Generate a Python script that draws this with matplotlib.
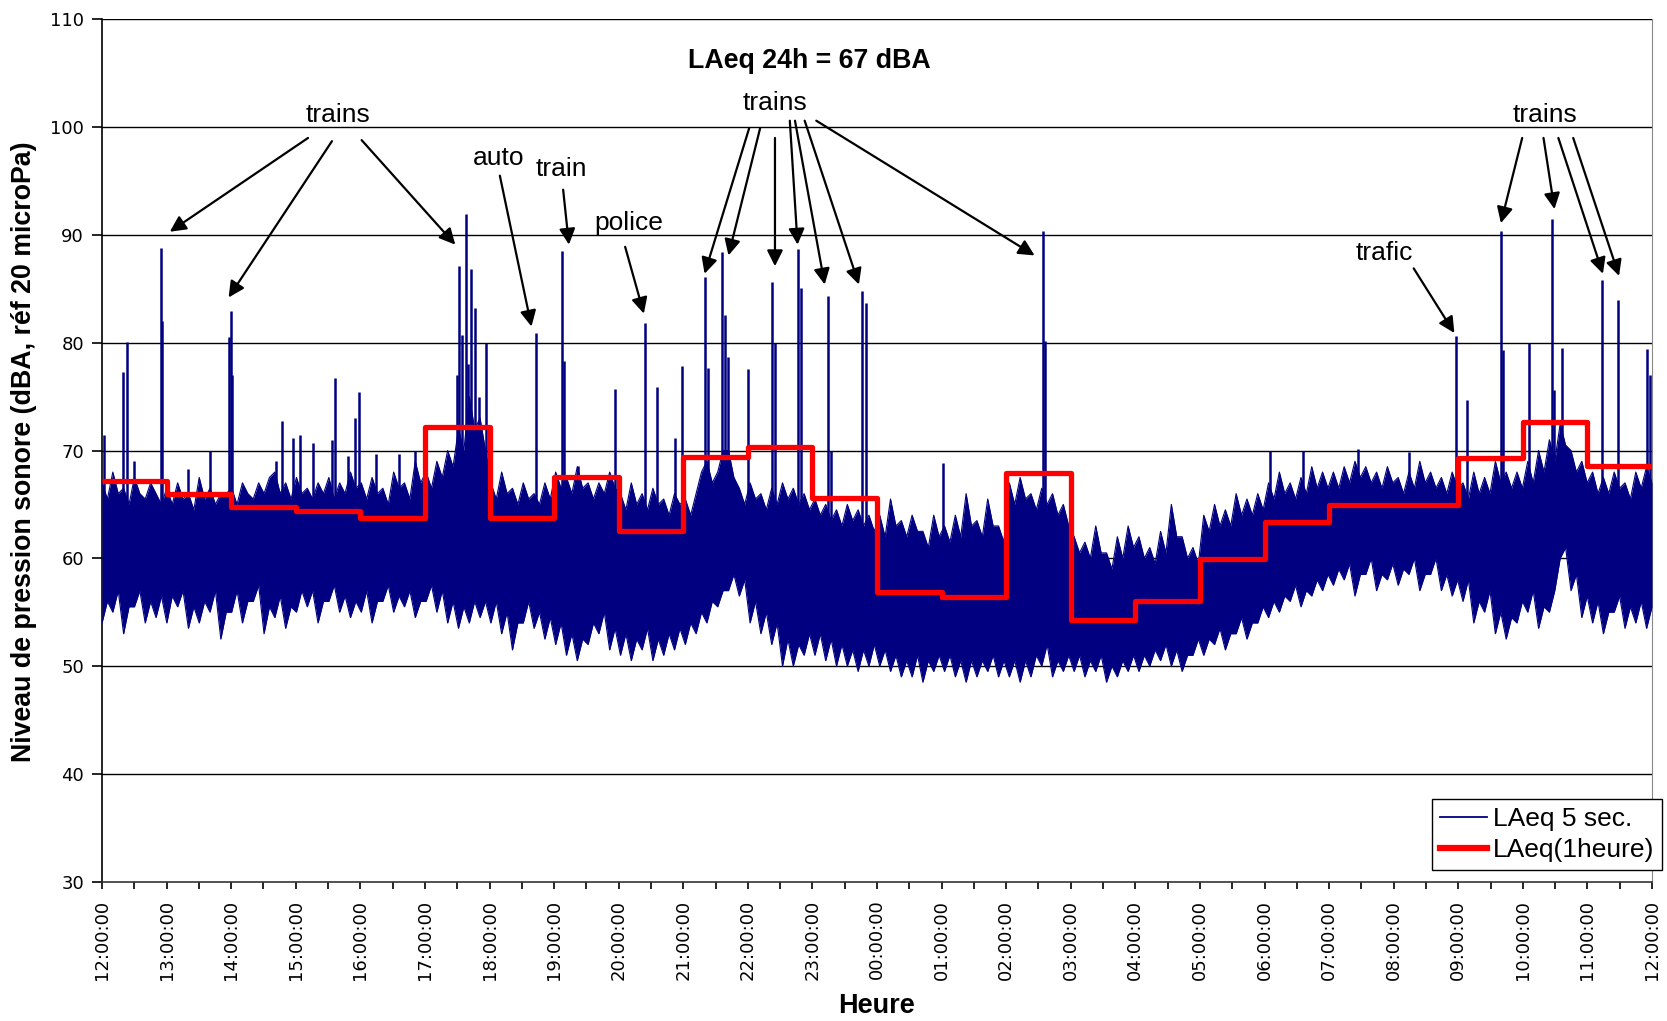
import matplotlib
matplotlib.use("Agg")
import matplotlib.pyplot as plt
from matplotlib.lines import Line2D
import numpy as np

# ---------------- data ----------------
hour_labels = ["12:00:00", "13:00:00", "14:00:00", "15:00:00", "16:00:00", "17:00:00",
               "18:00:00", "19:00:00", "20:00:00", "21:00:00", "22:00:00", "23:00:00",
               "00:00:00", "01:00:00", "02:00:00", "03:00:00", "04:00:00", "05:00:00",
               "06:00:00", "07:00:00", "08:00:00", "09:00:00", "10:00:00", "11:00:00",
               "12:00:00"]

# LAeq (1 heure), one value per hour starting 12:00
laeq_hourly = [67.2, 66.0, 64.8, 64.4, 63.7, 72.2, 63.7, 67.5, 62.5, 69.4, 70.3, 65.6,
               56.9, 56.4, 67.9, 54.3, 56.0, 59.9, 63.4, 64.9, 64.9, 69.3, 72.6, 68.6]

# LAeq 5 sec. : upper / lower edge of the dense band, every 5 minutes (one row per hour)
band_hi = [67, 65.5, 68, 66, 66.5, 65, 67.5, 66, 65.5, 67, 66, 65,
           66.5, 65, 67, 65.5, 66, 64.5, 67.5, 65.5, 66.5, 65, 66, 66,
           66.5, 65, 67, 66, 65.5, 67, 66, 67.5, 68, 66, 67, 65.5,
           67.5, 66, 66.5, 65.5, 67, 66, 67.5, 65.5, 67, 66, 68, 66.5,
           67, 65.5, 67.5, 66, 66.5, 65, 68, 66.5, 67, 65.5, 69, 67,
           68, 66.5, 69, 67.5, 70, 68.5, 72, 70, 75, 72, 73, 70,
           67, 65.5, 68, 66, 66.5, 65, 67, 65.5, 66, 65, 67, 65.5,
           68, 66.5, 67.5, 66, 68.5, 66.5, 67, 65.5, 67, 66, 68, 66.5,
           66, 64.5, 67, 65, 66, 64.5, 66.5, 65, 65.5, 64, 66, 65,
           65.5, 64, 66, 68, 69, 67, 68, 70, 70, 67.5, 66.5, 65,
           67, 65.5, 66, 64.5, 66.5, 65, 67, 65.5, 66.5, 65, 66, 64.5,
           65.5, 64, 65, 63.5, 64.5, 63, 65, 63.5, 64.5, 63, 64, 62.5,
           64, 62, 65.5, 63, 63.5, 62, 64, 62.5, 62.5, 61, 64, 62,
           63, 61.5, 64, 62, 66, 63, 63.5, 62, 65.5, 63, 63, 61.5,
           67, 65, 67.5, 65.5, 66, 64.5, 66.5, 65, 66, 64, 65, 63,
           62, 60.5, 61.5, 60, 63, 60.5, 60.5, 59, 62, 60, 63, 61,
           62, 60, 61, 59.5, 62.5, 60.5, 65, 62, 62, 60, 61, 59.5,
           64, 62.5, 65, 63, 64.5, 63, 66, 64, 65.5, 64, 66, 64.5,
           67, 65.5, 68, 66, 67, 65.5, 67.5, 66, 68.5, 66.5, 68, 66.5,
           68, 66.5, 68.5, 67, 69, 67.5, 68.5, 67, 68, 66.5, 68.5, 67,
           67.5, 66, 68, 66.5, 69, 67, 68, 66.5, 67.5, 66, 68, 66.5,
           67, 65.5, 68, 66, 67.5, 66, 69, 67, 68, 66.5, 68, 66.5,
           69, 67, 70, 68, 71, 69, 72.5, 70.5, 70, 68, 69, 67,
           68, 66, 67.5, 66, 68, 66.5, 67, 65.5, 68, 66.5, 68.5, 67]
band_lo = [54, 56, 55, 57, 53, 55.5, 55.5, 57, 54, 56, 54.5, 56.5,
           54, 56.5, 55.5, 57, 53.5, 55.5, 54, 56, 55, 57, 52.5, 55,
           55, 57, 54, 56, 56, 57.5, 53, 55.5, 54.5, 56.5, 53.5, 55.5,
           55, 57, 55.5, 57, 54, 56, 56, 57.5, 55, 56.5, 54.5, 56,
           55, 57, 54, 56, 56, 57.5, 55, 56.5, 55.5, 57, 54.5, 56,
           56, 57.5, 55, 57, 54, 56, 53.5, 55.5, 54, 56, 54.5, 56,
           54, 56, 53, 55, 51.5, 54, 54, 56, 53.5, 55, 52.5, 54.5,
           52, 54, 51, 53, 50.5, 52.5, 52, 54, 53, 55, 51.5, 53.5,
           51, 53, 50.5, 52.5, 51.5, 53.5, 50.5, 52.5, 51, 53, 51.5, 53.5,
           52, 54, 53, 55, 54, 56, 55.5, 57, 57, 58.5, 56.5, 58,
           54, 56, 53, 55, 52, 54, 50, 52.5, 50, 52, 51, 53,
           51, 53, 50.5, 52.5, 50, 52, 50, 51.5, 49.5, 51.5, 50, 52,
           50, 51.5, 49.5, 51, 49, 50.5, 49, 51, 48.5, 50.5, 49.5, 51,
           49.5, 51, 49, 50.5, 48.5, 50.5, 49, 50.5, 49.5, 51, 49, 50.5,
           49, 50.5, 48.5, 50.5, 49, 51, 50, 52, 49, 50.5, 49.5, 51,
           49.5, 51, 49, 50.5, 49.5, 51, 48.5, 50, 49, 50.5, 49.5, 51,
           49.5, 51, 50, 51.5, 50.5, 52, 50, 51.5, 49.5, 51, 51, 52.5,
           51, 52.5, 52, 53.5, 51.5, 53, 53, 54.5, 52.5, 54, 54, 55.5,
           54.5, 56, 55, 56.5, 56, 57.5, 55.5, 57, 56.5, 58, 57, 58.5,
           57.5, 59, 58, 59.5, 56.5, 58.5, 58.5, 60, 57, 58.5, 58, 59.5,
           57.5, 59, 58.5, 60, 57, 58.5, 58.5, 60, 57, 58.5, 56.5, 58,
           56, 58, 54, 56, 55, 57, 53, 55, 52.5, 54.5, 54, 56,
           55, 57, 53.5, 55.5, 55, 57, 60, 61, 57, 58.5, 54.5, 56.5,
           54, 56, 53, 55, 55, 56.5, 53.5, 55.5, 54, 56, 53.5, 55.5]

# isolated peaks of the 5 s series (hours after 12:00, dBA)
peak_time = [0.03, 0.32, 0.38, 0.49, 0.91, 0.93, 1.33, 1.67, 1.97, 1.99, 2.01, 2.70,
             2.79, 2.95, 3.07, 3.27, 3.56, 3.60, 3.81, 3.92, 3.98, 4.24, 4.60, 4.85,
             5.50, 5.53, 5.57, 5.63, 5.66, 5.71, 5.77, 5.84, 5.94, 6.72, 7.12, 7.16,
             7.37, 7.94, 8.41, 8.60, 8.87, 8.98, 9.34, 9.38, 9.60, 9.65, 9.70, 10.01,
             10.38, 10.42, 10.78, 10.83, 11.24, 11.28, 11.77, 11.83, 13.02, 14.57, 14.60,
             18.08, 18.60, 19.45, 20.23, 20.97, 21.14, 21.66, 21.70, 22.09, 22.45, 22.48,
             22.60, 23.22, 23.48, 23.93, 23.97]
peak_db = [71.4, 77.3, 80.1, 69.0, 88.8, 82.0, 68.3, 70.0, 80.5, 82.9, 77.0, 69.0,
           72.7, 71.2, 71.4, 70.7, 71.0, 76.7, 69.5, 73.0, 75.4, 69.7, 69.7, 70.0,
           77.0, 87.1, 80.7, 91.9, 78.0, 86.8, 83.2, 75.0, 80.0, 80.9, 88.5, 78.3,
           68.6, 75.7, 81.8, 75.9, 71.2, 77.8, 86.1, 77.7, 88.4, 82.6, 78.7, 77.6,
           85.6, 80.0, 88.7, 85.1, 84.3, 70.0, 84.8, 83.7, 68.8, 90.4, 80.2,
           70.0, 70.0, 70.1, 69.9, 80.6, 74.7, 90.4, 79.3, 80.0, 91.5, 75.6,
           79.5, 85.8, 84.0, 79.4, 77.0]

# annotations: label, label position (h, dB), arrow starts, arrow tips
ann_labels = ["trains", "auto", "train", "police", "trains", "trafic", "trains"]
ann_pos = [(3.65, 101.1), (6.14, 97.1), (7.11, 96.1), (8.16, 91.1), (10.42, 102.2),
           (19.85, 88.3), (22.35, 101.1)]
arrow_start = [(3.19, 99.0), (3.56, 98.7), (4.02, 98.8),
               (6.16, 95.5), (7.14, 94.2), (8.10, 88.9),
               (10.02, 99.9), (10.19, 99.9), (10.42, 99.0), (10.65, 100.6),
               (10.73, 100.6), (10.88, 100.6), (11.06, 100.6),
               (20.31, 86.9),
               (21.99, 99.0), (22.32, 99.0), (22.55, 99.0), (22.78, 99.0)]
arrow_tip = [(1.05, 90.3), (1.96, 84.2), (5.47, 89.1),
             (6.65, 81.5), (7.23, 89.1), (8.39, 82.7),
             (9.33, 86.4), (9.70, 88.1), (10.42, 87.1), (10.77, 89.1),
             (11.19, 85.4), (11.72, 85.4), (14.44, 88.1),
             (20.94, 80.9),
             (21.66, 91.1), (22.49, 92.4), (23.24, 86.4), (23.49, 86.2)]

title_text = "LAeq 24h = 67 dBA"

# ---------------- figure ----------------
NAVY = "#000080"
fig = plt.figure(figsize=(16.67, 10.21), dpi=100)
ax = fig.add_axes([0.0612, 0.1365, 0.9298, 0.8445])

t_band = np.linspace(0, 24, len(band_hi))
ax.fill_between(t_band, band_lo, band_hi, color=NAVY, lw=0, zorder=3)
ax.plot(t_band, band_hi, color=NAVY, lw=0.8, zorder=3)
ax.plot(t_band, band_lo, color=NAVY, lw=0.8, zorder=3)
base = np.interp(peak_time, t_band, band_lo) + 2
ax.vlines(peak_time, base, peak_db, color=NAVY, lw=1.8, zorder=3)

x_hour = np.arange(len(laeq_hourly) + 1)
ax.plot(x_hour, laeq_hourly + [laeq_hourly[-1]], drawstyle="steps-post",
        color="#ff0000", lw=3.8, zorder=4, solid_capstyle="butt")

ax.set_xlim(0, 24)
ax.set_ylim(30, 110)
ax.set_yticks(np.arange(30, 111, 10))
ax.set_xticks(np.arange(0, 25, 1))
ax.set_xticks(np.arange(0.5, 24, 1), minor=True)
ax.set_xticklabels(hour_labels, rotation=90, fontsize=13, family="DejaVu Sans")
for lab in ax.get_yticklabels():
    lab.set_fontsize(13)
ax.tick_params(axis="x", which="both", length=5, width=1.2, pad=8, direction="out")
ax.tick_params(axis="y", length=7, width=1.2, pad=6, direction="out")
for y in range(40, 111, 10):
    ax.axhline(y, color="black", lw=1, zorder=1)
ax.spines["top"].set_visible(False)
ax.spines["right"].set_color("#888888")
ax.spines["left"].set_linewidth(1.2)
ax.spines["bottom"].set_linewidth(1.2)
ax.spines["bottom"].set_color("#333333")

# text
ax.text(10.96, 106.1, title_text, ha="center", va="center", fontsize=19.3,
        fontweight="bold", family="Liberation Sans")
for lab, (x, y) in zip(ann_labels, ann_pos):
    ax.text(x, y, lab, ha="center", va="center", fontsize=19, family="Liberation Sans", zorder=6)
for (xs, ys), (xt, yt) in zip(arrow_start, arrow_tip):
    ax.annotate("", xy=(xt, yt), xytext=(xs, ys),
                arrowprops=dict(arrowstyle="-|>", color="black", lw=1.6,
                                mutation_scale=24, shrinkA=0, shrinkB=0), zorder=6)

fig.text(24 / 1667, 0.558, "Niveau de pression sonore (dBA, réf 20 microPa)", rotation=90,
         ha="center", va="center", fontsize=19.3, fontweight="bold", family="Liberation Sans")
fig.text(0.526, 1 - 1006 / 1021, "Heure", ha="center", va="center", fontsize=19.5,
         fontweight="bold", family="Liberation Sans")

handles = [Line2D([], [], color=NAVY, lw=1.3), Line2D([], [], color="#ff0000", lw=4.5)]
leg = fig.legend(handles, ["LAeq 5 sec.", "LAeq(1heure)"], loc="lower right",
                 bbox_to_anchor=(0.997, 0.148), prop={"family": "Liberation Sans", "size": 19},
                 frameon=True, fancybox=False, shadow=False, framealpha=1,
                 edgecolor="black", handlelength=1.8, handletextpad=0.2,
                 borderpad=0.3, labelspacing=0.25, borderaxespad=0)
leg.get_frame().set_linewidth(1)

fig.savefig("out.png", dpi=100)
